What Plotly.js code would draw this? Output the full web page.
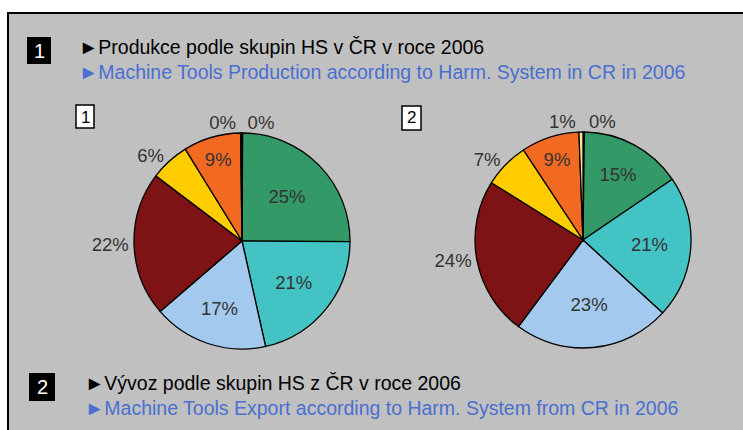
<!DOCTYPE html>
<html>
<head>
<meta charset="utf-8">
<script src="https://cdn.plot.ly/plotly-3.0.1.min.js"></script>
<style>
html,body{margin:0;padding:0;background:#fff;}
#chart{width:743px;height:430px;}
</style>
</head>
<body>
<div id="chart"></div>
<script>
// Data
const categories = ["HS a", "HS b", "HS c", "HS d", "HS e", "HS f", "HS g", "HS h"];
const productionValues = [0.1, 25.0, 21.4, 17.2, 21.6, 5.9, 8.6, 0.2];
const exportValues = [0.2, 15.3, 21.3, 23.4, 23.7, 6.8, 8.7, 0.6];
const sliceColors = ["#1a1a1a", "#339966", "#43c3c3", "#a3c9ee", "#7d1315", "#ffcc00", "#f26a22", "#f5eb9a"];
const textPos1 = ["outside", "inside", "inside", "inside", "outside", "outside", "inside", "outside"];
const textPos2 = ["outside", "inside", "inside", "inside", "outside", "outside", "inside", "outside"];
const titleCz1 = "►Produkce podle skupin HS v ČR v roce 2006";
const titleEn1 = "►Machine Tools Production according to Harm. System in CR in 2006";
const titleCz2 = "►Vývoz podle skupin HS z ČR v roce 2006";
const titleEn2 = "►Machine Tools Export according to Harm. System from CR in 2006";

const W = 743, H = 430;
const px = x => x / W;
const py = y => 1 - y / H;
const FONT = "Liberation Sans, Arial, sans-serif";

function pieTrace(values, pos, cx, cy, r) {
  return {
    type: "pie",
    labels: categories,
    values: values,
    sort: false,
    direction: "clockwise",
    rotation: 0,
    marker: {colors: sliceColors, line: {color: "#000", width: 1.3}},
    textinfo: "percent",
    texttemplate: "%{percent:.0%}",
    textposition: pos,
    insidetextorientation: "horizontal",
    textfont: {family: FONT, size: 18.5, color: "#333"},
    insidetextfont: {family: FONT, size: 18.5, color: "#333"},
    outsidetextfont: {family: FONT, size: 18.5, color: "#333"},
    hoverinfo: "label+percent",
    showlegend: false,
    domain: {x: [px(cx - r), px(cx + r)], y: [py(cy + r), py(cy - r)]}
  };
}

const data = [
  pieTrace(productionValues, textPos1, 242, 241, 108),
  pieTrace(exportValues, textPos2, 583, 240, 108)
];

const shapes = [
  {type: "rect", xref: "paper", yref: "paper", x0: px(8), x1: 1.05, y0: -0.05, y1: py(13),
   fillcolor: "#c0c0c0", line: {color: "#000", width: 2}, layer: "below"},
  {type: "rect", xref: "paper", yref: "paper", x0: px(27), x1: px(51), y0: py(64), y1: py(37),
   fillcolor: "#000", line: {width: 0}, layer: "below"},
  {type: "rect", xref: "paper", yref: "paper", x0: px(29), x1: px(55), y0: py(401), y1: py(373),
   fillcolor: "#000", line: {width: 0}, layer: "below"},
  {type: "rect", xref: "paper", yref: "paper", x0: px(76), x1: px(94), y0: py(128), y1: py(105),
   fillcolor: "#fff", line: {color: "#000", width: 1.5}, layer: "below"},
  {type: "rect", xref: "paper", yref: "paper", x0: px(402), x1: px(421), y0: py(130), y1: py(106),
   fillcolor: "#fff", line: {color: "#000", width: 1.5}, layer: "below"}
];

function ann(text, x, y, size, color, xanchor) {
  return {text: text, xref: "paper", yref: "paper", x: px(x), y: py(y), xanchor: xanchor || "left",
    yanchor: "middle", showarrow: false, font: {family: FONT, size: size, color: color}};
}

const annotations = [
  ann("1", 39, 50.5, 20, "#fff", "center"),
  ann("2", 42, 387, 20, "#fff", "center"),
  ann(titleCz1, 77, 47, 19.5, "#000"),
  ann(titleEn1, 77, 72, 19.5, "#4a6fd0"),
  ann(titleCz2, 83, 383, 19.5, "#000"),
  ann(titleEn2, 83, 408, 19.5, "#4a6fd0"),
  ann("1", 85, 117, 17, "#000", "center"),
  ann("2", 411.5, 118, 17, "#000", "center")
];

const layout = {
  width: W, height: H,
  margin: {l: 0, r: 0, t: 0, b: 0},
  paper_bgcolor: "#fff",
  plot_bgcolor: "rgba(0,0,0,0)",
  shapes: shapes,
  annotations: annotations,
  font: {family: FONT}
};

Plotly.newPlot("chart", data, layout, {displayModeBar: false, staticPlot: true});
</script>
</body>
</html>
